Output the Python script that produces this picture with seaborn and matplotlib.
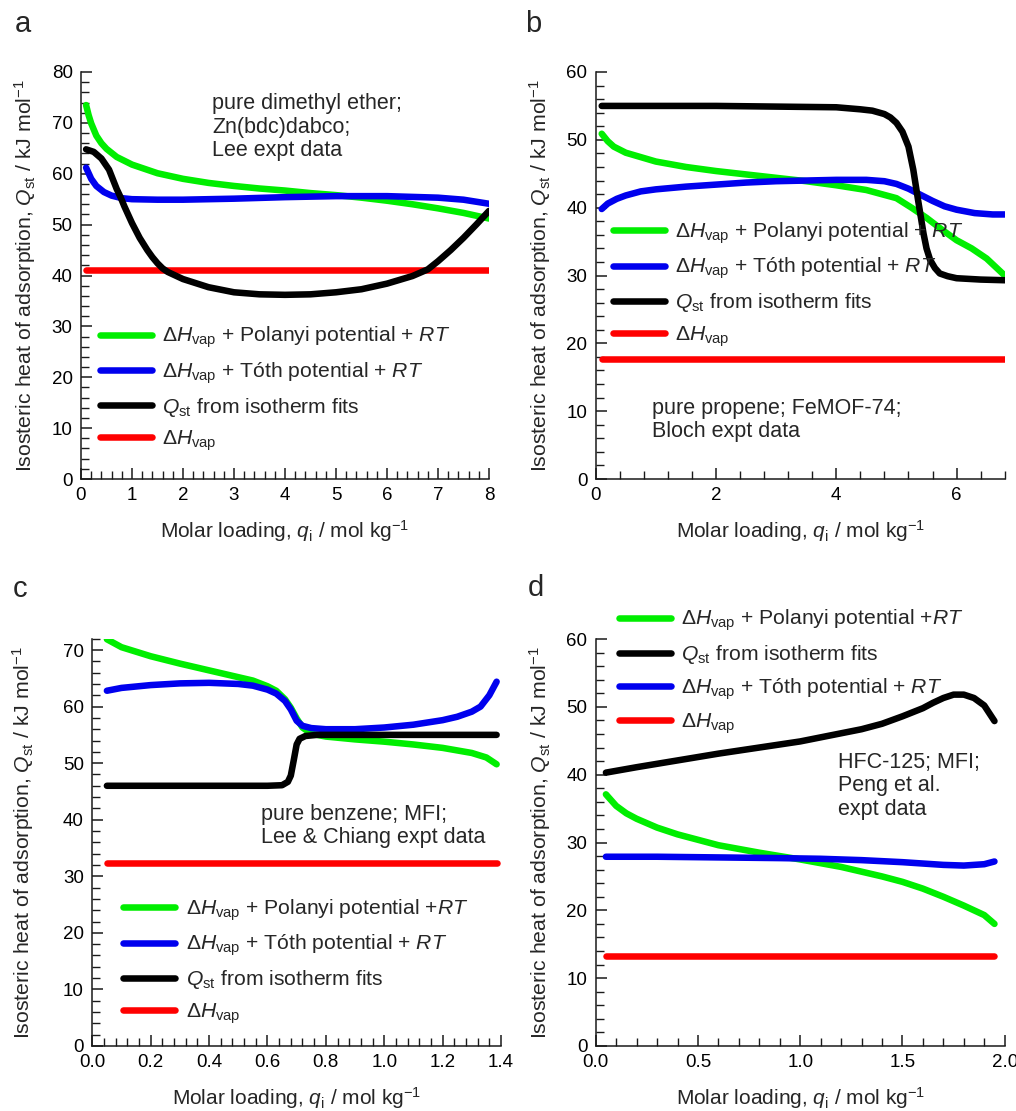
import numpy as np
import pandas as pd
import matplotlib
matplotlib.use("Agg")
import matplotlib.pyplot as plt
from matplotlib.ticker import MultipleLocator, FormatStrFormatter
from matplotlib.lines import Line2D
import seaborn as sns

# ---------------- data ----------------
# (a) dimethyl ether in Zn(bdc)dabco
a_green_x = [0.1, 0.15, 0.2, 0.3, 0.4, 0.5, 0.7, 1.0, 1.5, 2.0, 2.5, 3.0, 3.5, 4.0, 4.5, 5.0, 5.5, 6.0, 6.5, 7.0, 7.5, 8.0]
a_green_y = [73.5, 71.5, 69.9, 67.5, 66.0, 64.9, 63.3, 61.8, 60.1, 59.0, 58.2, 57.6, 57.1, 56.7, 56.2, 55.8, 55.3, 54.7, 54.0, 53.2, 52.3, 51.2]
a_blue_x = [0.1, 0.2, 0.3, 0.45, 0.6, 0.8, 1.0, 1.5, 2.0, 3.0, 4.0, 5.0, 6.0, 7.0, 7.5, 8.0]
a_blue_y = [61.2, 59.0, 57.6, 56.4, 55.7, 55.2, 55.0, 54.9, 54.9, 55.1, 55.4, 55.6, 55.6, 55.3, 54.9, 54.1]
a_black_x = [0.1, 0.25, 0.4, 0.55, 0.7, 0.78, 0.85, 1.0, 1.15, 1.3, 1.4, 1.5, 1.6, 1.7, 2.0, 2.5, 3.0, 3.5, 4.0, 4.5, 5.0, 5.5, 6.0, 6.5, 6.8, 7.0, 7.25, 7.5, 7.75, 8.0]
a_black_y = [64.8, 64.3, 63.0, 60.8, 57.0, 55.3, 53.6, 50.3, 47.4, 45.0, 43.6, 42.4, 41.4, 40.7, 39.3, 37.7, 36.7, 36.3, 36.2, 36.3, 36.7, 37.3, 38.4, 39.9, 41.2, 42.8, 45.0, 47.4, 50.0, 52.7]
a_red_x = [0.1, 8.0]
a_red_y = [41.1, 41.1]

# (b) propene in FeMOF-74
b_green_x = [0.1, 0.2, 0.3, 0.5, 1.0, 1.5, 2.0, 2.5, 3.0, 3.5, 4.0, 4.5, 5.0, 5.25, 5.5, 5.75, 6.0, 6.25, 6.5, 6.8]
b_green_y = [50.9, 49.8, 49.0, 48.1, 46.8, 46.0, 45.4, 44.9, 44.4, 43.9, 43.3, 42.6, 41.4, 40.0, 38.5, 36.8, 35.2, 34.0, 32.5, 30.0]
b_blue_x = [0.1, 0.2, 0.35, 0.5, 0.75, 1.0, 1.5, 2.0, 2.5, 3.0, 3.5, 4.0, 4.5, 4.8, 5.0, 5.2, 5.4, 5.6, 5.8, 6.0, 6.3, 6.6, 6.8]
b_blue_y = [39.8, 40.6, 41.3, 41.8, 42.4, 42.7, 43.1, 43.4, 43.7, 43.9, 44.0, 44.1, 44.1, 43.9, 43.5, 42.8, 41.9, 41.0, 40.2, 39.7, 39.2, 39.0, 39.0]
b_black_x = [0.1, 1.0, 2.0, 3.0, 4.0, 4.4, 4.6, 4.8, 4.9, 5.0, 5.1, 5.2, 5.28, 5.36, 5.45, 5.5, 5.56, 5.64, 5.72, 5.85, 6.0, 6.4, 6.8]
b_black_y = [55.0, 55.0, 55.0, 54.9, 54.8, 54.5, 54.3, 53.8, 53.3, 52.5, 51.2, 49.0, 45.6, 41.1, 36.2, 34.0, 32.3, 31.1, 30.3, 29.9, 29.6, 29.4, 29.3]
b_red_x = [0.1, 6.8]
b_red_y = [17.7, 17.7]

# (c) benzene in MFI
c_green_x = [0.05, 0.1, 0.2, 0.3, 0.4, 0.5, 0.55, 0.6, 0.63, 0.66, 0.68, 0.70, 0.72, 0.75, 0.8, 0.9, 1.0, 1.1, 1.2, 1.3, 1.35, 1.385]
c_green_y = [71.9, 70.5, 68.9, 67.6, 66.4, 65.2, 64.6, 63.6, 62.8, 61.3, 59.8, 57.9, 56.3, 55.2, 54.7, 54.2, 53.8, 53.3, 52.7, 51.8, 51.0, 49.8]
c_blue_x = [0.05, 0.1, 0.2, 0.3, 0.4, 0.5, 0.55, 0.6, 0.63, 0.66, 0.68, 0.70, 0.72, 0.75, 0.8, 0.9, 1.0, 1.1, 1.2, 1.25, 1.3, 1.33, 1.36, 1.385]
c_blue_y = [62.8, 63.3, 63.8, 64.1, 64.2, 64.0, 63.7, 63.0, 62.3, 61.0, 59.5, 57.5, 56.6, 56.2, 56.0, 56.0, 56.3, 56.8, 57.6, 58.2, 59.1, 60.0, 62.0, 64.4]
c_black_x = [0.05, 0.3, 0.6, 0.65, 0.67, 0.68, 0.69, 0.70, 0.71, 0.73, 0.77, 1.0, 1.385]
c_black_y = [46.0, 46.0, 46.0, 46.1, 46.7, 47.8, 50.5, 53.3, 54.3, 54.8, 55.0, 55.0, 55.0]
c_red_x = [0.05, 1.385]
c_red_y = [32.3, 32.3]

# (d) HFC-125 in MFI
d_green_x = [0.05, 0.1, 0.15, 0.2, 0.3, 0.4, 0.5, 0.6, 0.8, 1.0, 1.2, 1.4, 1.5, 1.6, 1.7, 1.8, 1.9, 1.95]
d_green_y = [37.1, 35.4, 34.3, 33.5, 32.2, 31.2, 30.4, 29.6, 28.5, 27.5, 26.4, 25.0, 24.2, 23.2, 22.0, 20.7, 19.3, 18.0]
d_blue_x = [0.05, 0.3, 0.6, 0.9, 1.1, 1.3, 1.5, 1.6, 1.7, 1.8, 1.85, 1.9, 1.95]
d_blue_y = [27.9, 27.9, 27.8, 27.7, 27.6, 27.4, 27.1, 26.9, 26.7, 26.6, 26.7, 26.8, 27.2]
d_black_x = [0.05, 0.2, 0.4, 0.6, 0.8, 1.0, 1.2, 1.3, 1.4, 1.5, 1.6, 1.65, 1.7, 1.75, 1.8, 1.85, 1.9, 1.95]
d_black_y = [40.3, 41.1, 42.1, 43.1, 44.0, 44.9, 46.1, 46.7, 47.5, 48.6, 49.8, 50.6, 51.3, 51.8, 51.8, 51.3, 50.2, 47.9]
d_red_x = [0.05, 1.95]
d_red_y = [13.2, 13.2]

# ---------------- labels ----------------
lab_pol = "Δ$H_{\\rm vap}$ + Polanyi potential + $RT$"
lab_pol2 = "Δ$H_{\\rm vap}$ + Polanyi potential +$RT$"
lab_toth = "Δ$H_{\\rm vap}$ + Tóth potential + $RT$"
lab_qst = "$Q_{\\rm st}$ from isotherm fits"
lab_hvap = "Δ$H_{\\rm vap}$"
xlabel = "Molar loading, $q_{\\rm i}$ / mol kg$^{-1}$"
ylabel = "Isosteric heat of adsorption, $Q_{\\rm st}$ / kJ mol$^{-1}$"

notes = {
    "a": "pure dimethyl ether;\nZn(bdc)dabco;\nLee expt data",
    "b": "pure propene; FeMOF-74;\nBloch expt data",
    "c": "pure benzene; MFI;\nLee & Chiang expt data",
    "d": "HFC-125; MFI;\nPeng et al.\nexpt data",
}

GREEN, BLUE, BLACK, RED = "#00ee00", "#0000ee", "#000000", "#ff0000"

# ---------------- style ----------------
sns.set_theme(style="ticks")
plt.rcParams["font.family"] = ["Liberation Sans", "DejaVu Sans"]
plt.rcParams["mathtext.fontset"] = "custom"
plt.rcParams["mathtext.rm"] = "Liberation Sans"
plt.rcParams["mathtext.it"] = "Liberation Sans:italic"
plt.rcParams["mathtext.bf"] = "Liberation Sans:bold"
plt.rcParams["axes.linewidth"] = 1.1
plt.rcParams["axes.edgecolor"] = "#1a1a1a"

W, H = 1016, 1111
fig = plt.figure(figsize=(W / 100, H / 100), dpi=100)


def add_axes(left, top, right, bottom):
    return fig.add_axes([left / W, 1 - bottom / H, (right - left) / W, (bottom - top) / H])


LW = 4.7
TICK_FS = 13.5
XLAB_FS = 15
YLAB_FS = 15.3
LEG_FS = 15.2
NOTE_FS = 15.5


def draw(ax, series, xlim, ylim, xmaj, xmin, ymaj, ymin, xfmt):
    for key in ["red", "green", "blue", "black"]:
        xs, ys, col = series[key]
        df = pd.DataFrame({"q": xs, "Q": ys})
        sns.lineplot(data=df, x="q", y="Q", ax=ax, color=col, lw=LW,
                     sort=False, estimator=None, solid_capstyle="round",
                     solid_joinstyle="round")
    ax.set_xlim(*xlim)
    ax.set_ylim(*ylim)
    ax.xaxis.set_major_locator(MultipleLocator(xmaj))
    ax.xaxis.set_minor_locator(MultipleLocator(xmin))
    ax.yaxis.set_major_locator(MultipleLocator(ymaj))
    ax.yaxis.set_minor_locator(MultipleLocator(ymin))
    if xfmt:
        ax.xaxis.set_major_formatter(FormatStrFormatter(xfmt))
    ax.tick_params(which="both", direction="in", top=False, right=False,
                   colors="#1a1a1a", labelcolor="black", labelsize=TICK_FS)
    ax.tick_params(which="major", length=8, width=1.1, pad=6)
    ax.tick_params(which="minor", length=6, width=1.0)
    sns.despine(ax=ax)
    ax.set_xlabel(xlabel, fontsize=XLAB_FS)
    ax.set_ylabel(ylabel, fontsize=YLAB_FS)
    ax.xaxis.set_label_coords(0.5, -0.128)
    ax.xaxis.label.set_va("center")


def legend(ax, entries, x_px, ymid_px):
    handles = [Line2D([0], [0], color=c, lw=LW, solid_capstyle="round") for c, _ in entries]
    labels = [l for _, l in entries]
    ax.legend(handles, labels, loc="center left", bbox_to_anchor=(x_px / W, 1 - ymid_px / H),
              bbox_transform=fig.transFigure, frameon=False, fontsize=LEG_FS,
              handlelength=2.45, handletextpad=0.5, labelspacing=0.47,
              borderpad=0, borderaxespad=0)


# panel a
ax_a = add_axes(81, 72, 489, 479)
draw(ax_a, {"green": (a_green_x, a_green_y, GREEN), "blue": (a_blue_x, a_blue_y, BLUE),
            "black": (a_black_x, a_black_y, BLACK), "red": (a_red_x, a_red_y, RED)},
     (0, 8), (0, 80), 1, 0.2, 10, 2, None)
legend(ax_a, [(GREEN, lab_pol), (BLUE, lab_toth), (BLACK, lab_qst), (RED, lab_hvap)], 100, 389)
ax_a.yaxis.set_label_coords((25 - 81) / 408, 0.5)
ax_a.yaxis.label.set_va("center")

# panel b
ax_b = add_axes(595.7, 72, 1004.7, 479)
draw(ax_b, {"green": (b_green_x, b_green_y, GREEN), "blue": (b_blue_x, b_blue_y, BLUE),
            "black": (b_black_x, b_black_y, BLACK), "red": (b_red_x, b_red_y, RED)},
     (0, 6.8), (0, 60), 2, 0.4, 10, 2, None)
legend(ax_b, [(GREEN, lab_pol), (BLUE, lab_toth), (BLACK, lab_qst), (RED, lab_hvap)], 613, 284.5)
ax_b.yaxis.set_label_coords((540 - 595.7) / 409, 0.5)
ax_b.yaxis.label.set_va("center")

# panel c
ax_c = add_axes(92.3, 638.7, 501, 1046)
draw(ax_c, {"green": (c_green_x, c_green_y, GREEN), "blue": (c_blue_x, c_blue_y, BLUE),
            "black": (c_black_x, c_black_y, BLACK), "red": (c_red_x, c_red_y, RED)},
     (0, 1.4), (0, 72), 0.2, 0.04, 10, 2, "%.1f")
ax_c.set_yticks(np.arange(0, 71, 10))
legend(ax_c, [(GREEN, lab_pol2), (BLUE, lab_toth), (BLACK, lab_qst), (RED, lab_hvap)], 123.3, 961.5)
ax_c.yaxis.set_label_coords((23 - 92.3) / 408.7, 0.5)
ax_c.yaxis.label.set_va("center")

# panel d
ax_d = add_axes(595.7, 639, 1004.7, 1046)
draw(ax_d, {"green": (d_green_x, d_green_y, GREEN), "blue": (d_blue_x, d_blue_y, BLUE),
            "black": (d_black_x, d_black_y, BLACK), "red": (d_red_x, d_red_y, RED)},
     (0, 2.0), (0, 60), 0.5, 0.1, 10, 2, "%.1f")
legend(ax_d, [(GREEN, lab_pol2), (BLACK, lab_qst), (BLUE, lab_toth), (RED, lab_hvap)], 619, 672)
ax_d.yaxis.set_label_coords((540 - 595.7) / 409, 0.5)
ax_d.yaxis.label.set_va("center")

# annotations
for key, (x_px, y_px) in {"a": (212, 127.1), "b": (652.3, 419.7),
                          "c": (261, 826), "d": (838, 786)}.items():
    fig.text(x_px / W, 1 - y_px / H, notes[key], fontsize=NOTE_FS,
             ha="left", va="center", linespacing=1.14)

# panel letters
for key, (x_px, y_px) in {"a": (23, 24), "b": (533, 24), "c": (20, 589), "d": (536, 588)}.items():
    fig.text(x_px / W, 1 - y_px / H, key, fontsize=21, ha="center", va="center")

fig.savefig("out.png", dpi=100, facecolor="white")
